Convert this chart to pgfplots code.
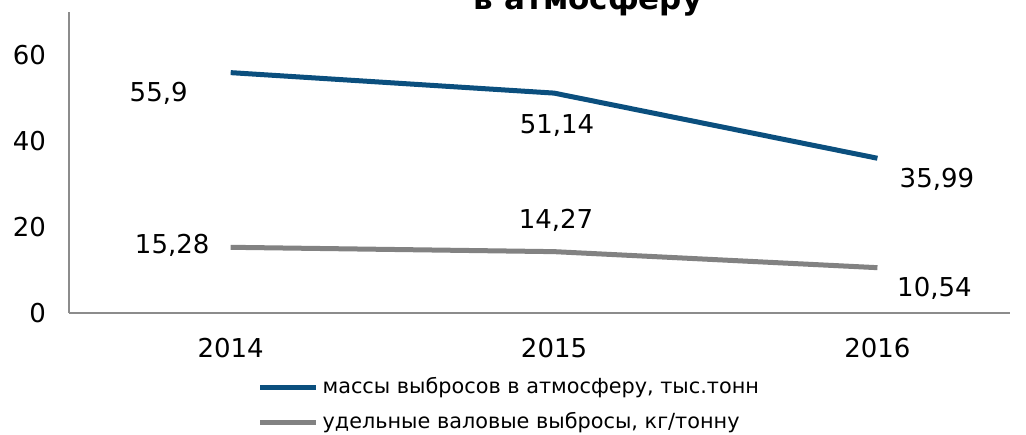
\documentclass[border=0pt]{standalone}
\usepackage{fontspec}
\setmainfont{DejaVu Sans}
\usepackage{pgfplots}
\pgfplotsset{compat=1.18}
\definecolor{cblue}{HTML}{0B4F7E}
\definecolor{cgray}{HTML}{828282}
\definecolor{axgray}{HTML}{8C8C8C}
\begin{document}
\begin{tikzpicture}
\begin{axis}[
  at={(34.5pt,60.5pt)}, anchor=south west,
  scale only axis, width=470.5pt, height=150.5pt,
  xmin=-0.5, xmax=2.41, ymin=0, ymax=70,
  axis x line=bottom, axis y line=left,
  axis line style={axgray, line width=1pt, -},
  xtick={0,1,2}, xticklabels={2014,2015,2016},
  ytick={0,20,40,60},
  major tick length=0pt,
  tick label style={font=\fontsize{13}{15}\selectfont},
  /pgf/number format/assume math mode=true,
  xticklabel style={yshift=-9pt},
  yticklabel style={xshift=-8pt},
  clip=false,
  legend style={at={(0.2,-0.2)}, anchor=north west, draw=none, fill=none,
    font=\fontsize{10.4}{12.5}\selectfont, row sep=4pt, inner sep=0pt,
    /tikz/every even column/.append style={column sep=0pt}},
  legend cell align=left,
  legend image code/.code={\draw[#1] (0pt,0pt) -- (28pt,0pt);},
]
\addplot[cblue, line width=2.5pt] coordinates {(0,55.9) (1,51.14) (2,35.99)};
\addlegendentry{массы выбросов в атмосферу, тыс.тонн}
\addplot[cgray, line width=2.5pt] coordinates {(0,15.28) (1,14.27) (2,10.54)};
\addlegendentry{удельные валовые выбросы, кг/тонну}
\begin{scope}[every node/.style={font=\fontsize{13}{15}\selectfont}]
\node at (axis cs:0,55.9) [xshift=-36pt,yshift=-10.2pt] {55,9};
\node at (axis cs:1,51.14) [xshift=1.5pt,yshift=-16pt] {51,14};
\node at (axis cs:2,35.99) [xshift=29.75pt,yshift=-10.75pt] {35,99};
\node at (axis cs:0,15.28) [xshift=-29.25pt,yshift=1pt] {15,28};
\node at (axis cs:1,14.27) [xshift=1pt,yshift=15.5pt] {14,27};
\node at (axis cs:2,10.54) [xshift=28.5pt,yshift=-10.25pt] {10,54};
\end{scope}
\end{axis}
\node[font=\bfseries\fontsize{15.5}{18}\selectfont, anchor=base] at (294pt,212pt) {в атмосферу};
\pgfresetboundingbox
\useasboundingbox (0,0) rectangle (513pt,217pt);
\end{tikzpicture}
\end{document}
